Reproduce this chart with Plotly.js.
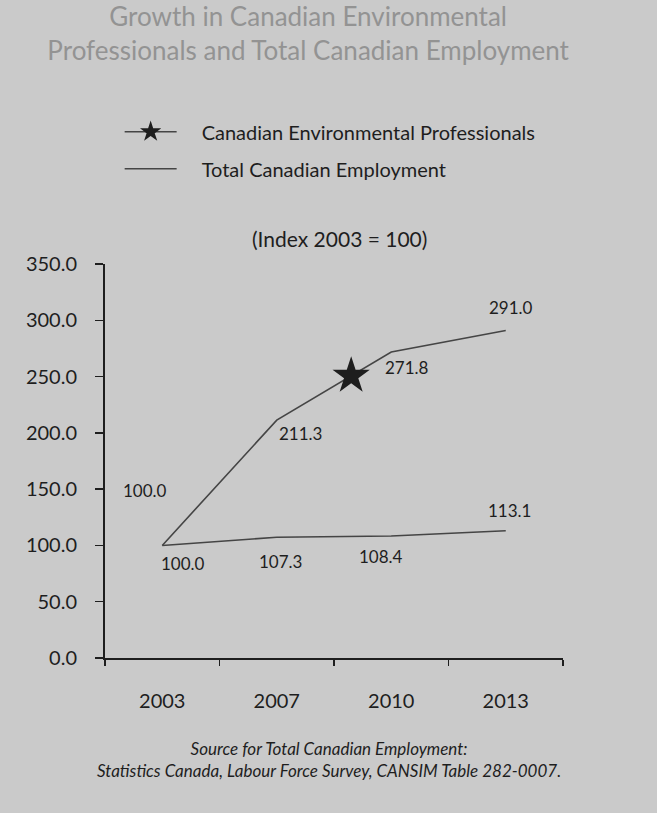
<!DOCTYPE html>
<html>
<head>
<meta charset="utf-8">
<script src="https://cdn.plot.ly/plotly-3.0.1.min.js"></script>
<style>html,body{margin:0;padding:0;background:#cacaca;}#chart{width:657px;height:813px;}</style>
</head>
<body>
<div id="chart"></div>
<script>
// ---- data ----
const years = ['2003', '2007', '2010', '2013'];
const envProfessionals = [100.0, 211.3, 271.8, 291.0];
const totalEmployment = [100.0, 107.3, 108.4, 113.1];
const yTickValues = [0, 50, 100, 150, 200, 250, 300, 350];
const seriesNames = ['Canadian Environmental Professionals', 'Total Canadian Employment'];

// ---- label offsets (style) ----
const envLabelShift = [[-17, 55], [24, -13], [16, -15], [5, 23]];
const totLabelShift = [[21, -18], [4, -24], [-10, -21], [4, 20]];

// star marker placed along the professionals line between 2007 and 2010
const starFrac = 0.65;
const starX = 1 + starFrac;
const starY = envProfessionals[1] + starFrac * (envProfessionals[2] - envProfessionals[1]);

const font = 'Lato, "Open Sans", sans-serif';
const ink = '#1e1e1e';
const lineCol = '#454545';
const pad = '\u2002\u2002';

const traces = [
  {x: years, y: envProfessionals, type: 'scatter', mode: 'lines',
   line: {color: lineCol, width: 1.6}, showlegend: false, hoverinfo: 'skip'},
  {x: [starX], y: [starY], xaxis: 'x2', type: 'scatter', mode: 'lines+markers',
   name: pad + seriesNames[0], legendgroup: 'a',
   marker: {symbol: 'star', size: 28, color: ink}, line: {color: lineCol, width: 1.6}},
  {x: years, y: totalEmployment, type: 'scatter', mode: 'lines',
   name: pad + seriesNames[1], legendgroup: 'b',
   line: {color: lineCol, width: 1.6}}
];

const annotations = [];
const fmt = v => v.toFixed(1);
years.forEach((yr, i) => {
  annotations.push({xref: 'x', yref: 'y', x: i, y: envProfessionals[i], text: fmt(envProfessionals[i]), showarrow: false,
    xshift: envLabelShift[i][0], yshift: envLabelShift[i][1], font: {family: font, size: 17, color: ink}});
  annotations.push({xref: 'x', yref: 'y', x: i, y: totalEmployment[i], text: fmt(totalEmployment[i]), showarrow: false,
    xshift: totLabelShift[i][0], yshift: totLabelShift[i][1], font: {family: font, size: 17, color: ink}});
});
annotations.push({xref: 'paper', yref: 'paper', x: 0.513, y: 1.102, text: '(Index 2003 = 100)',
  showarrow: false, font: {family: font, size: 21, color: ink}});
annotations.push({xref: 'paper', yref: 'paper', x: 0.488, y: -0.258, yanchor: 'middle',
  text: '<i>Source for Total Canadian Employment:</i><br><i>Statistics Canada, Labour Force Survey, CANSIM Table 282-0007.</i>',
  showarrow: false, font: {family: font, size: 17, color: ink}});

const layout = {
  width: 657, height: 813,
  paper_bgcolor: '#cacaca', plot_bgcolor: '#cacaca',
  margin: {l: 105, r: 94, t: 264, b: 155},
  title: {text: 'Growth in Canadian Environmental<br>Professionals and Total Canadian Employment',
    x: 0.469, xanchor: 'center', y: 0.968, yanchor: 'top', yref: 'container',
    font: {family: font, size: 26, color: '#939393'}},
  showlegend: true,
  legend: {x: 0.032, y: 1.385, xanchor: 'left', yanchor: 'top', bgcolor: 'rgba(0,0,0,0)',
    itemwidth: 52, tracegroupgap: 8, traceorder: 'grouped',
    font: {family: font, size: 20, color: ink}},
  xaxis: {type: 'category', categoryorder: 'array', categoryarray: years,
    range: [-0.5, 3.5], tickson: 'boundaries', ticks: 'outside', ticklen: 6, tickwidth: 1.5,
    tickcolor: ink, showline: true, linecolor: ink, linewidth: 2, showgrid: false, zeroline: false,
    ticklabelstandoff: 24, tickfont: {family: font, size: 20, color: ink}, fixedrange: true},
  xaxis2: {overlaying: 'x', range: [-0.5, 3.5], visible: false, fixedrange: true},
  yaxis: {range: [0, 350], tickvals: yTickValues, tickformat: '.1f', ticks: 'outside', ticklen: 8,
    tickwidth: 1.5, tickcolor: ink, showline: true, linecolor: ink, linewidth: 2, showgrid: false,
    zeroline: false, ticklabelstandoff: 14, tickfont: {family: font, size: 20, color: ink}, fixedrange: true},
  annotations: annotations
};

Plotly.newPlot('chart', traces, layout, {displayModeBar: false, staticPlot: true});
</script>
</body>
</html>
